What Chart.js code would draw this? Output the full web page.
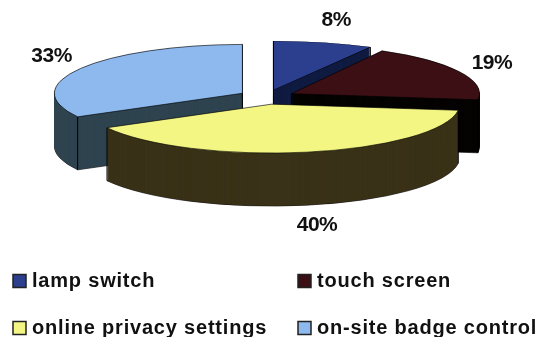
<!DOCTYPE html>
<html><head><meta charset="utf-8">
<script src="https://cdn.jsdelivr.net/npm/chart.js@4"></script>
<style>html,body{margin:0;padding:0;background:#fff}canvas{display:block;filter:blur(0.5px)}</style>
</head><body><canvas id="c" width="543" height="337"></canvas>
<script>
const categories = ['lamp switch', 'touch screen', 'online privacy settings', 'on-site badge control'];
const values = [8, 19, 40, 33];
const topColors = ['#2b3f8e', '#3b0f14', '#f4f684', '#8db9ef'];
const wallColors = ['#111c42', '#060303', '#3a3218', '#2f4450'];
const drawOrder = [0, 3, 1, 2];
const TILT = 0.26, DEPTH = 53, EXPLODE = 28;
const widthScale = [1.07, 1, 1, 1];
const labelShift = [[16, -22], [33, -8], [10, 73], [-29, -12]];
const legendPos = [[13, 281], [298, 281], [13, 328], [298, 328]];

function place(ctx, arc, extraY, i) {
  const mid = (arc.startAngle + arc.endAngle) / 2;
  ctx.translate(arc.x + Math.cos(mid) * EXPLODE, arc.y + Math.sin(mid) * EXPLODE * TILT + extraY);
  ctx.scale(widthScale[i], TILT);
  ctx.translate(-arc.x, -arc.y);
}
function paint(ctx, arc, fill, border, width) {
  const saved = arc.options;
  const o = Object.create(saved);
  Object.defineProperties(o, {
    backgroundColor: {value: fill}, borderColor: {value: border}, borderWidth: {value: width}
  });
  arc.options = o;
  arc.draw(ctx);
  arc.options = saved;
}
const pie3d = {
  id: 'pie3d',
  beforeDatasetsDraw(chart) {
    const ctx = chart.ctx, arcs = chart.getDatasetMeta(0).data;
    drawOrder.forEach(i => {
      const arc = arcs[i];
      ctx.save(); place(ctx, arc, DEPTH, i); paint(ctx, arc, wallColors[i], '#000', 1); ctx.restore();
      for (let y = DEPTH - 0.5; y >= 0.5; y -= 0.5) {
        ctx.save(); place(ctx, arc, y, i); paint(ctx, arc, wallColors[i], wallColors[i], 0); ctx.restore();
      }
      const mid = (arc.startAngle + arc.endAngle) / 2;
      const ox = arc.x + Math.cos(mid) * EXPLODE, oy = arc.y + Math.sin(mid) * EXPLODE * TILT;
      const corners = [[arc.outerRadius, arc.startAngle], [arc.outerRadius, arc.endAngle]];
      if (Math.sin(mid) < 0) corners.push([0, 0]);
      ctx.save();
      ctx.strokeStyle = '#000'; ctx.lineWidth = 1;
      corners.forEach(([r, a]) => {
        const px = ox + Math.cos(a) * r * widthScale[i], py = oy + Math.sin(a) * r * TILT;
        ctx.beginPath(); ctx.moveTo(px, py); ctx.lineTo(px, py + DEPTH); ctx.stroke();
      });
      ctx.restore();
      ctx.save(); place(ctx, arc, 0, i); paint(ctx, arc, topColors[i], '#000', 1); ctx.restore();
    });
    return false;
  },
  afterDraw(chart) {
    const ctx = chart.ctx, arcs = chart.getDatasetMeta(0).data;
    ctx.save();
    ctx.fillStyle = '#111';
    ctx.font = 'bold 21px "Liberation Sans"';
    ctx.letterSpacing = '-0.5px';
    ctx.textAlign = 'center'; ctx.textBaseline = 'middle';
    arcs.forEach((arc, i) => {
      const mid = (arc.startAngle + arc.endAngle) / 2;
      const r = arc.outerRadius;
      const x = arc.x + Math.cos(mid) * (EXPLODE + r) + labelShift[i][0];
      const y = arc.y + Math.sin(mid) * (EXPLODE + r) * TILT + labelShift[i][1];
      ctx.fillText(values[i] + '%', x, y);
    });
    ctx.textAlign = 'left'; ctx.textBaseline = 'alphabetic';
    ctx.font = 'bold 20px "Liberation Sans"';
    ctx.letterSpacing = '0.8px';
    categories.forEach((name, i) => {
      const [x, y] = legendPos[i];
      ctx.fillStyle = topColors[i]; ctx.strokeStyle = '#222'; ctx.lineWidth = 1.5;
      ctx.fillRect(x, y - 6.5, 13, 13); ctx.strokeRect(x, y - 6.5, 13, 13);
      ctx.fillStyle = '#111';
      ctx.fillText(name, x + 19, y + 6);
    });
    ctx.restore();
  }
};
new Chart(document.getElementById('c'), {
  type: 'pie',
  data: {labels: categories, datasets: [{data: values, backgroundColor: topColors, borderWidth: 0}]},
  options: {
    responsive: false, animation: false, events: [],
    radius: 188,
    layout: {padding: {top: 0, left: 0, right: 10, bottom: 143}},
    plugins: {legend: {display: false}, tooltip: {enabled: false}, title: {display: false}}
  },
  plugins: [pie3d]
});
</script></body></html>
